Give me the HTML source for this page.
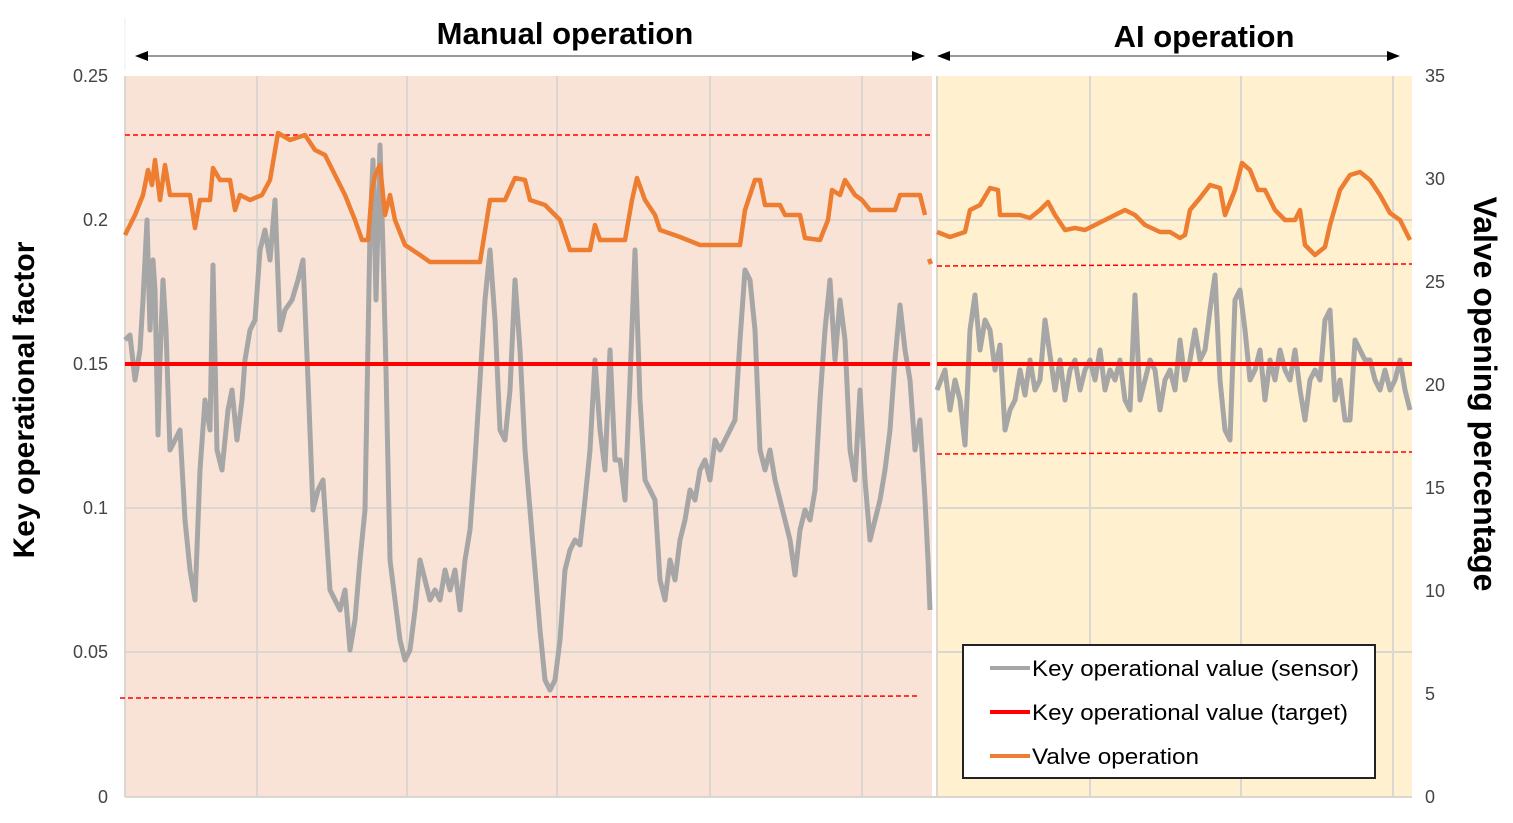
<!DOCTYPE html>
<html><head><meta charset="utf-8"><style>
body{margin:0;background:#fff;}
svg{display:block;font-family:"Liberation Sans",sans-serif;}
</style></head><body>
<svg width="1513" height="823" viewBox="0 0 1513 823">
<rect x="125" y="76" width="807" height="721" fill="#f9e3d7"/>
<rect x="936" y="76" width="476" height="721" fill="#fff0cf"/>
<g stroke="#dcd6d0" stroke-width="2">
<line x1="125" y1="220" x2="932" y2="220"/><line x1="125" y1="364" x2="932" y2="364"/><line x1="125" y1="508" x2="932" y2="508"/><line x1="125" y1="652" x2="932" y2="652"/>
<line x1="936" y1="220" x2="1412" y2="220"/><line x1="936" y1="508" x2="1412" y2="508"/><line x1="936" y1="652" x2="1412" y2="652"/>
<line x1="257" y1="76" x2="257" y2="797"/><line x1="407" y1="76" x2="407" y2="797"/><line x1="557" y1="76" x2="557" y2="797"/><line x1="710" y1="76" x2="710" y2="797"/><line x1="862" y1="76" x2="862" y2="797"/><line x1="1090" y1="76" x2="1090" y2="797"/><line x1="1241" y1="76" x2="1241" y2="797"/><line x1="1393" y1="76" x2="1393" y2="797"/>
<line x1="125" y1="76" x2="125" y2="797"/><line x1="125" y1="797" x2="1412" y2="797"/><line x1="937" y1="76" x2="937" y2="797"/>
</g>
<line x1="125" y1="18" x2="125" y2="70" stroke="#eee" stroke-width="1"/>
<g fill="#444" font-size="18" text-anchor="end">
<text x="108" y="82">0.25</text><text x="108" y="226">0.2</text><text x="108" y="370">0.15</text><text x="108" y="514">0.1</text><text x="108" y="658">0.05</text><text x="108" y="803">0</text>
</g>
<g fill="#444" font-size="18" text-anchor="start">
<text x="1425" y="82">35</text><text x="1425" y="185">30</text><text x="1425" y="288">25</text><text x="1425" y="391">20</text><text x="1425" y="494">15</text><text x="1425" y="597">10</text><text x="1425" y="700">5</text><text x="1425" y="803">0</text>
</g>
<text transform="translate(34,400) rotate(-90)" text-anchor="middle" font-size="30" font-weight="bold">Key operational factor</text>
<text transform="translate(1474,394) rotate(90)" text-anchor="middle" font-size="32" font-weight="bold">Valve opening percentage</text>
<text x="565" y="44" text-anchor="middle" font-size="31" font-weight="bold">Manual operation</text>
<text x="1204" y="47" text-anchor="middle" font-size="31" font-weight="bold">AI operation</text>
<g stroke="#999" stroke-width="2"><line x1="140" y1="56" x2="920" y2="56"/><line x1="942" y1="56" x2="1395" y2="56"/></g>
<g fill="#000"><polygon points="135,56 148,51 148,61"/><polygon points="925,56 912,51 912,61"/><polygon points="937,56 950,51 950,61"/><polygon points="1400,56 1387,51 1387,61"/></g>
<g stroke="#f00" stroke-width="1.5" stroke-dasharray="5,3" fill="none">
<line x1="125" y1="135" x2="930" y2="135"/><line x1="120" y1="698" x2="920" y2="696"/>
<line x1="937" y1="266" x2="1412" y2="264"/><line x1="937" y1="454" x2="1412" y2="452"/>
</g>
<g fill="none" stroke="#a6a6a6" stroke-width="5" stroke-linejoin="round">
<polyline points="125,340 130,335 135,380 140,350 143,300 147,220 150,330 153,260 155,290 158,435 160,360 163,280 166,330 170,450 175,440 180,430 185,520 190,570 195,600 200,470 205,400 210,430 213,265 217,450 222,470 228,410 232,390 237,440 242,400 245,360 250,330 255,320 260,250 265,230 270,260 275,200 280,330 285,310 292,300 298,280 303,260 308,380 313,510 318,490 323,480 330,590 335,600 340,610 345,590 350,650 355,620 360,560 365,510 370,230 373,160 376,300 380,145 383,250 386,370 390,560 395,600 400,640 405,660 410,650 415,610 420,560 425,580 430,600 435,590 440,600 445,570 450,590 455,570 460,610 465,560 470,530 475,460 480,380 485,300 490,250 495,320 500,430 505,440 510,390 515,280 520,350 525,450 530,510 535,570 540,630 545,680 550,690 555,680 560,640 565,570 570,550 575,540 580,545 585,500 590,450 595,360 600,430 605,470 610,350 615,460 620,460 625,500 630,380 635,250 640,400 645,480 650,490 655,500 660,580 665,600 670,560 675,580 680,540 685,520 690,490 695,500 700,470 705,460 710,480 715,440 720,450 725,440 730,430 735,420 740,340 745,270 750,280 755,330 760,450 765,470 770,450 775,480 780,500 785,520 790,540 795,575 800,530 805,510 810,520 815,490 820,400 825,330 830,280 835,360 840,300 845,340 850,450 855,480 860,390 865,480 870,540 875,520 880,500 885,470 890,430 895,360 900,305 905,350 910,380 915,450 920,420 925,500 928,560 930,610"/>
<polyline points="937,390 945,370 950,410 955,380 960,400 965,445 970,330 975,295 980,350 985,320 990,330 995,370 1000,345 1005,430 1010,410 1015,400 1020,370 1025,395 1030,360 1035,390 1040,380 1045,320 1050,355 1055,390 1060,360 1065,400 1070,370 1075,360 1080,390 1085,370 1090,360 1095,380 1100,350 1105,390 1110,370 1115,380 1120,360 1125,400 1130,410 1135,295 1140,400 1145,380 1150,360 1155,370 1160,410 1165,380 1170,370 1175,390 1180,340 1185,380 1190,360 1195,330 1200,360 1205,350 1210,310 1215,275 1220,380 1225,430 1230,440 1235,300 1240,290 1245,330 1250,380 1255,370 1260,350 1265,400 1270,360 1275,380 1280,350 1285,370 1290,380 1295,350 1300,390 1305,420 1310,380 1315,370 1320,380 1325,320 1330,310 1335,400 1340,380 1345,420 1350,420 1355,340 1360,350 1365,360 1370,360 1375,380 1380,390 1385,370 1390,390 1395,380 1400,360 1405,390 1410,410"/>
</g>
<g stroke="#f00" stroke-width="4"><line x1="125" y1="364" x2="930" y2="364"/><line x1="937" y1="364" x2="1412" y2="364"/></g>
<g fill="none" stroke="#ed7d31" stroke-width="4.5" stroke-linejoin="round">
<polyline points="125,235 135,215 143,195 148,170 152,185 155,160 160,200 165,165 170,195 175,195 190,195 195,228 200,200 210,200 213,168 220,180 230,180 235,210 240,195 250,200 262,195 270,180 278,133 290,140 305,135 315,150 325,155 335,175 345,195 355,220 362,240 368,240 372,190 375,175 380,165 385,215 390,195 395,220 405,245 420,255 430,262 480,262 490,200 505,200 515,178 525,180 530,200 545,205 560,220 570,250 590,250 595,225 600,240 625,240 632,200 637,178 645,200 655,215 660,230 680,237 700,245 740,245 745,210 750,195 755,180 760,180 765,205 780,205 785,215 800,215 805,238 820,240 828,220 832,190 840,195 845,180 855,195 862,200 870,210 895,210 900,195 920,195 925,215"/>
<polyline points="937,232 950,237 965,232 970,210 980,205 990,188 998,190 1000,215 1020,215 1030,218 1040,210 1048,202 1055,215 1065,230 1075,228 1085,230 1095,225 1105,220 1115,215 1125,210 1135,215 1145,225 1160,232 1170,232 1180,238 1185,235 1190,210 1200,198 1210,185 1220,188 1225,215 1235,190 1242,163 1250,170 1258,190 1265,190 1275,210 1285,220 1295,220 1300,210 1305,245 1315,255 1325,247 1330,225 1340,190 1350,175 1360,172 1370,180 1380,195 1390,213 1400,220 1410,240"/>
<line x1="929" y1="259" x2="931" y2="264"/>
</g>
<rect x="963" y="645" width="412" height="133" fill="#fff" stroke="#222" stroke-width="2"/>
<line x1="990" y1="668" x2="1030" y2="668" stroke="#a6a6a6" stroke-width="4"/>
<line x1="990" y1="712" x2="1030" y2="712" stroke="#f00" stroke-width="4"/>
<line x1="990" y1="756" x2="1030" y2="756" stroke="#ed7d31" stroke-width="4"/>
<g font-size="22" fill="#000"><text x="1032" y="676" textLength="327" lengthAdjust="spacingAndGlyphs">Key operational value (sensor)</text><text x="1032" y="720" textLength="316" lengthAdjust="spacingAndGlyphs">Key operational value (target)</text><text x="1032" y="764" textLength="167" lengthAdjust="spacingAndGlyphs">Valve operation</text></g>
</svg>
</body></html>
